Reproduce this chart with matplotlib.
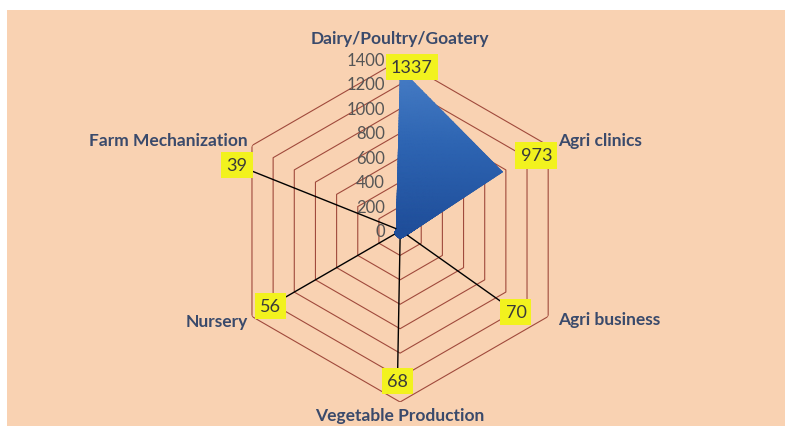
import numpy as np
import matplotlib.pyplot as plt
from matplotlib.patches import Rectangle
from matplotlib.colors import LinearSegmentedColormap

# Datos del gráfico radar
categorias = ['Dairy/Poultry/Goatery', 'Agri clinics', 'Agri business',
              'Vegetable Production', 'Nursery', 'Farm Mechanization']
valores = [1337, 973, 70, 68, 56, 39]
ticks_radiales = [0, 200, 400, 600, 800, 1000, 1200, 1400]

# Posición de las etiquetas de datos (grados, radio) como en la imagen
pos_etiquetas = [(4, 1346), (61, 1275), (125, 1158), (181, 1228), (240, 1225), (292, 1440)]
con_guia = [False, False, True, True, True, True]

# Posición de los nombres de categoría (offset en puntos desde el vértice exterior)
off_categorias = [(0, 16, 'center'), (7, 4, 'left'), (7, -2, 'left'),
                  (0, -9.5, 'center'), (-3, -3, 'right'), (-3, 4, 'right')]

fondo = '#F9D2B2'
color_red = '#A04A3C'
color_texto = '#3A4A6B'

fig = plt.figure(figsize=(7.85, 4.27), dpi=100)
fig.patch.set_facecolor('white')
fig.patches.append(Rectangle((7 / 785, 0), 1, (427 - 11) / 427, transform=fig.transFigure,
                             facecolor=fondo, edgecolor='none', zorder=-10))

ax = fig.add_axes([0.2918, 0.0562, 0.4357, 0.801], projection='polar')
ax.set_theta_zero_location('N')
ax.set_theta_direction(-1)
ax.set_facecolor('none')
ax.set_ylim(0, 1400)
ax.grid(False)
ax.spines['polar'].set_visible(False)
ax.set_xticks([])
ax.set_yticks([])

n = len(categorias)
angulos = np.arange(n) * 2 * np.pi / n
cerrado = np.append(angulos, angulos[0])

# Anillos hexagonales
for v in ticks_radiales[1:]:
    ax.plot(cerrado, [v] * (n + 1), color=color_red, lw=0.8, zorder=1)

# Radio vertical del eje
ax.plot([0, 0], [0, 1400], color=color_red, lw=0.8, zorder=1)

# Relleno con degradado azul
vals_cerrados = valores + [valores[0]]
poly = ax.fill(cerrado, vals_cerrados, facecolor='none', edgecolor='none', zorder=3)[0]
th = np.linspace(0, 2 * np.pi, 361)
rr = np.linspace(0, 1400, 60)
TH, RR = np.meshgrid(th, rr)
altura = RR * np.cos(TH)
cmap = LinearSegmentedColormap.from_list('azul', ['#1F4E9A', '#2D64B2', '#4A80C8'])
malla = ax.pcolormesh(TH, RR, altura, cmap=cmap, shading='gouraud',
                      vmin=0, vmax=1400, zorder=2)
malla.set_clip_path(poly)

# Etiquetas del eje radial
for v in ticks_radiales:
    ax.annotate(str(v), xy=(0, v), xytext=(-11, 0), textcoords='offset points',
                ha='right', va='center', fontsize=12, color='#555555',
                family='Lato', zorder=4)

# Nombres de categorías
for ang, nombre, (dx, dy, ha) in zip(angulos, categorias, off_categorias):
    ax.annotate(nombre, xy=(ang, 1400), xytext=(dx, dy), textcoords='offset points',
                ha=ha, va='center', fontsize=12.5, fontweight='bold', color=color_texto,
                family='Lato', annotation_clip=False)

# Etiquetas de datos
for ang, v, (t_deg, r_lab), guia in zip(angulos, valores, pos_etiquetas, con_guia):
    props = dict(arrowstyle='-', color='black', lw=1, shrinkA=0, shrinkB=0) if guia else None
    ax.annotate(str(v), xy=(ang, v), xytext=(np.deg2rad(t_deg), r_lab),
                ha='center', va='center', fontsize=13, color='#3A3A3A', family='Lato',
                bbox=dict(boxstyle='square,pad=0.28', facecolor='#F2F21E', edgecolor='none'),
                arrowprops=props, annotation_clip=False, zorder=5)

fig.savefig('out.png', dpi=100)
